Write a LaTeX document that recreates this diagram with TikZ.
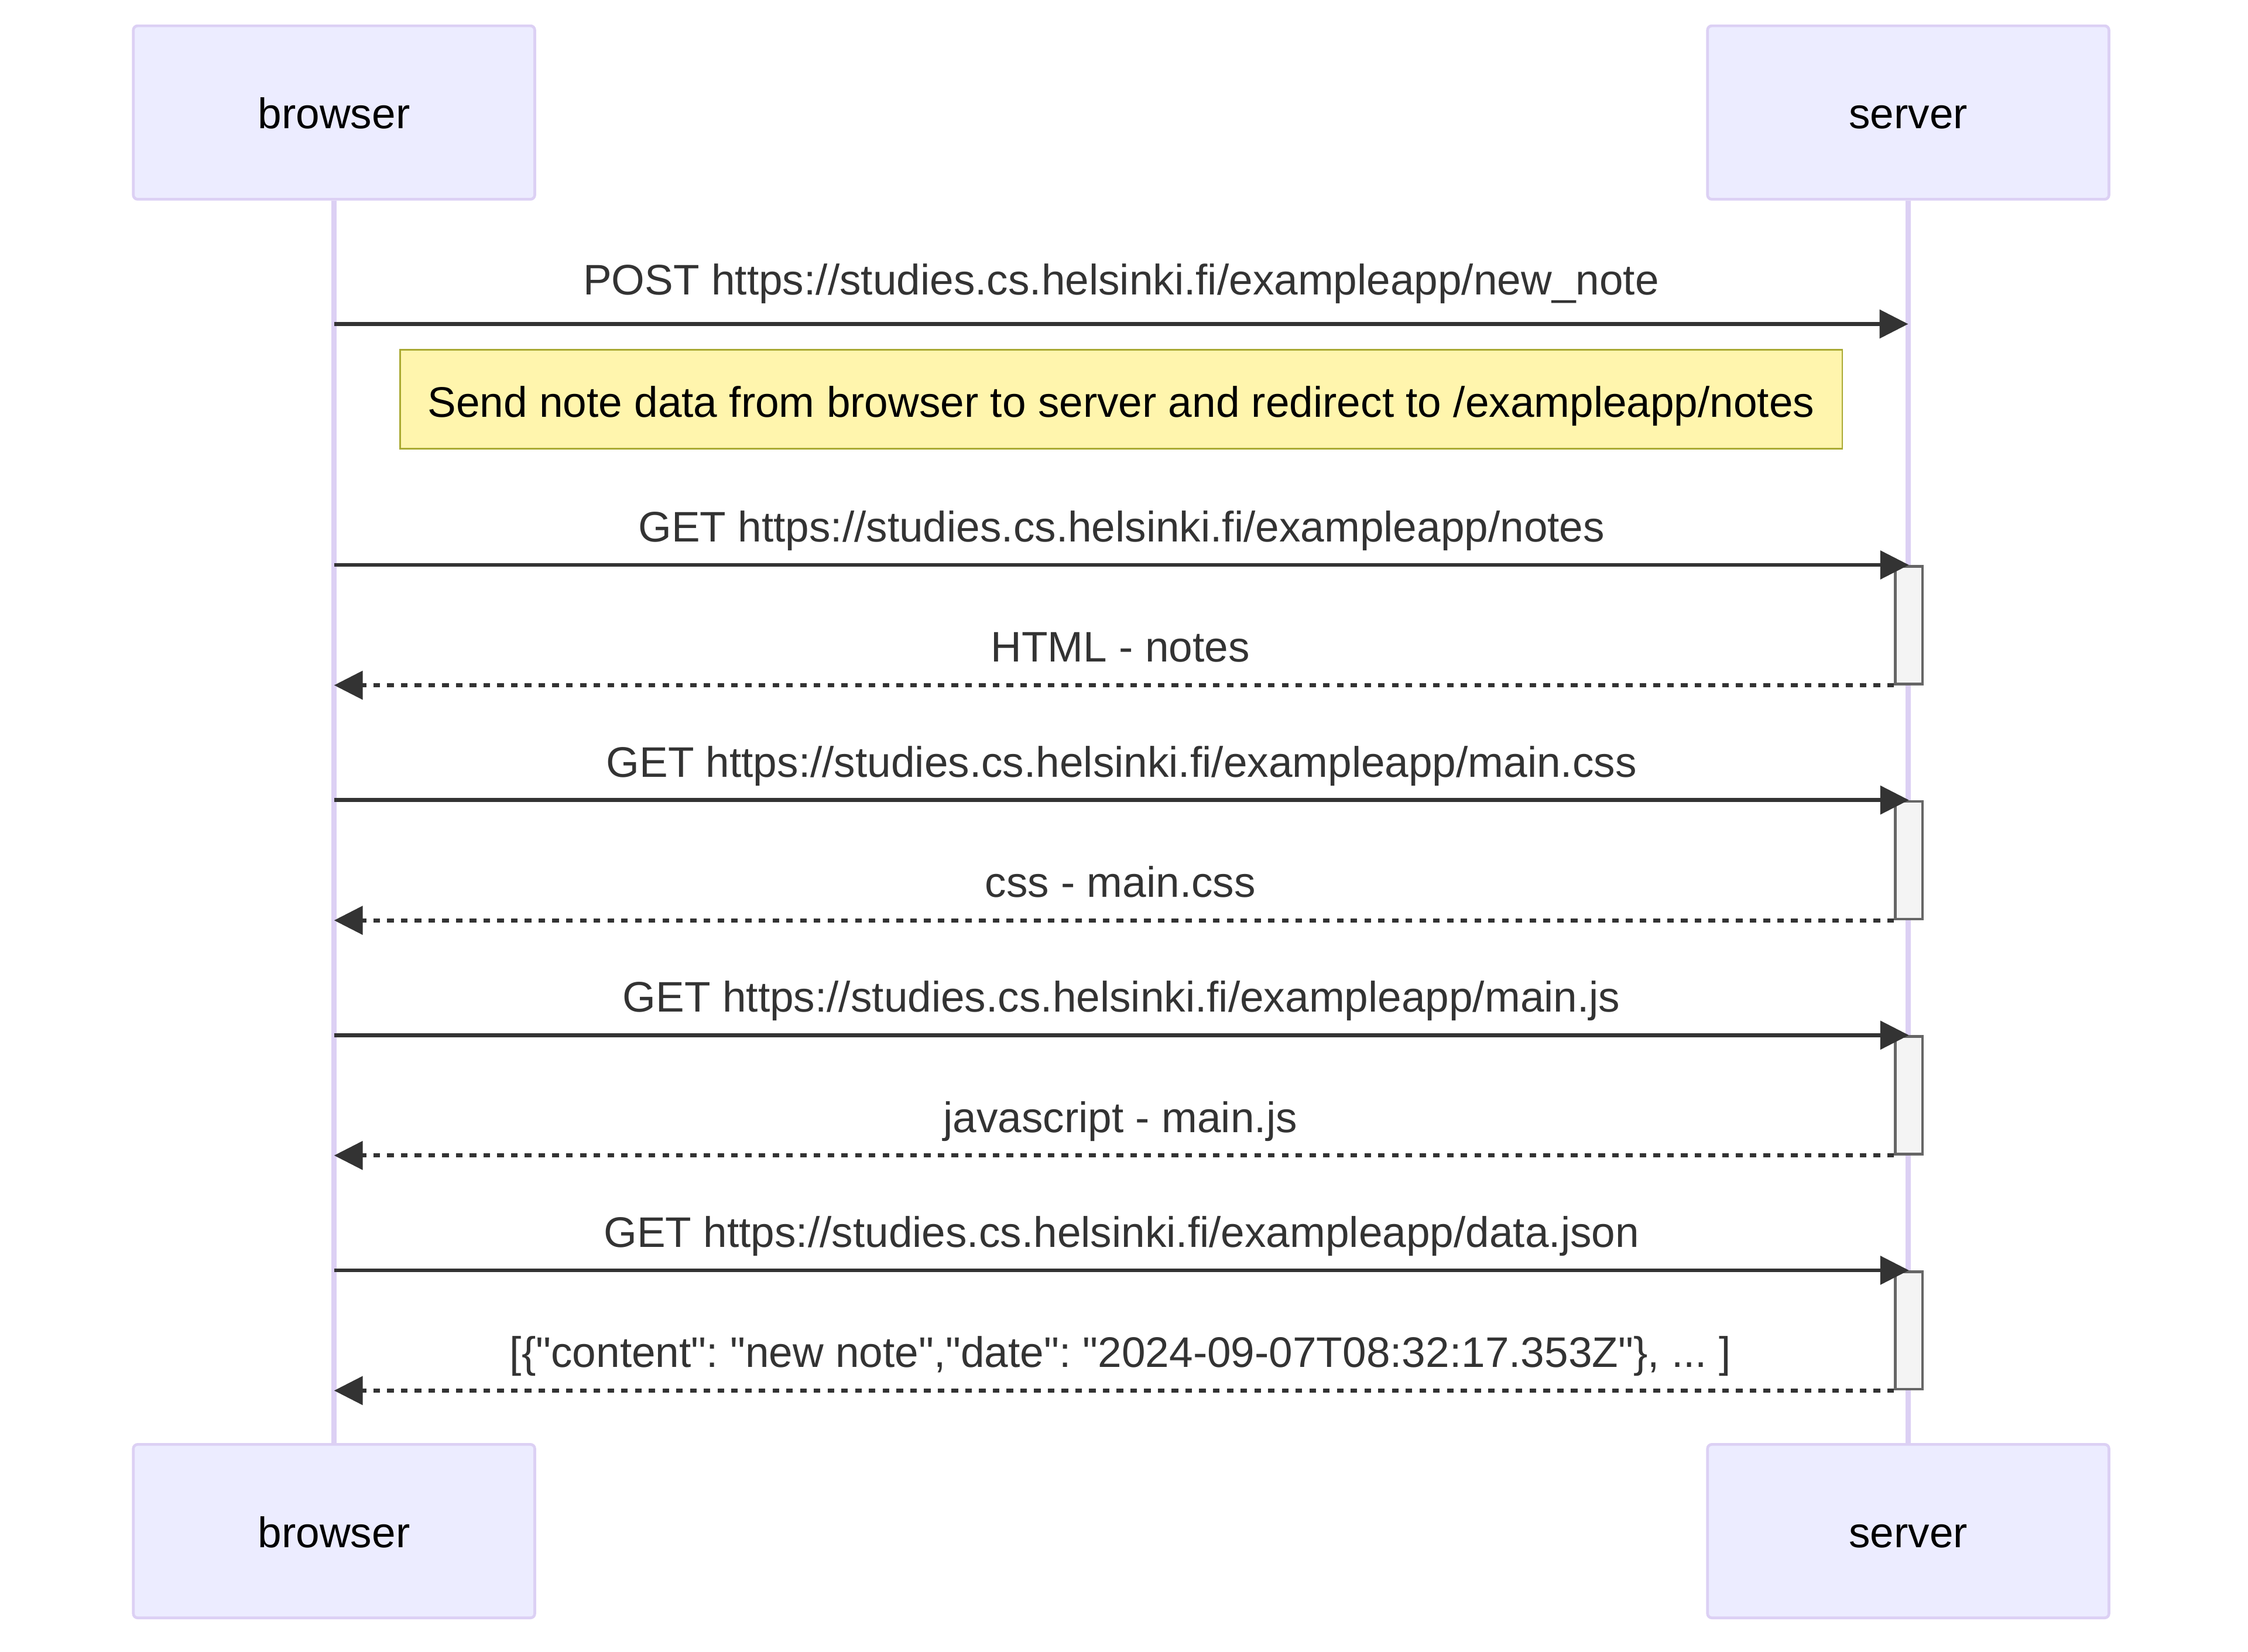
\documentclass[tikz,border=0pt]{standalone}
\usepackage{fontspec}
\setmainfont{Liberation Sans}[Ligatures=TeXOff]
\usetikzlibrary{positioning,arrows.meta}
\definecolor{actorfill}{HTML}{ECECFF}
\definecolor{actorline}{HTML}{DCD0F4}
\definecolor{notefill}{HTML}{FFF5AD}
\definecolor{noteline}{HTML}{AAAA33}
\definecolor{msgcol}{HTML}{333333}
\definecolor{actfill}{HTML}{F4F4F4}
\definecolor{actline}{HTML}{666666}
\frenchspacing

\begin{document}
\begin{tikzpicture}[
            x=0.5pt, y=-0.5pt,
            actornode/.style={rectangle, rounded corners=1.5pt, draw=actorline, line width=0.95pt, fill=actorfill, minimum width=140pt, minimum height=60.5pt, text height=11.3pt, text depth=0pt, font=\fontsize{14.9}{18}\selectfont},
            notenode/.style={rectangle, draw=noteline, line width=0.6pt, fill=notefill, minimum width=503pt, minimum height=34.5pt, text height=12.5pt, text depth=0pt, font=\fontsize{14.9}{18}\selectfont},
            msglabel/.style={text=msgcol, font=\fontsize{14.9}{18}\selectfont, inner sep=0pt, anchor=base, yshift=8.1pt},
            replylabel/.style={msglabel, xshift=2.2pt},
            activebox/.style={rectangle, draw=actline, line width=0.95pt, fill=actfill, minimum width=9.5pt, minimum height=41pt, inner sep=0pt},
            callline/.style={draw=msgcol, line width=1.4pt, -{Triangle[length=10pt, width=9.8pt]}},
            replyline/.style={callline, dash pattern=on 2.3pt off 2.5pt},
            lifeline/.style={draw=actorline, line width=1.9pt},
        ]
            \useasboundingbox (0,0) rectangle (1568,1152);
            % Nodes
            \node[actornode] (browsertop) at (233,78.5) {browser};
            \node[actornode] (servertop) at (1331,78.5) {server};
            \node[actornode] (browserbot) at (233,1068) {browser};
            \node[actornode] (serverbot) at (1331,1068) {server};

            % Lifelines
            \draw[lifeline] (browsertop.south) -- (browserbot.north);
            \draw[lifeline] (servertop.south) -- (serverbot.north);

            % Note
            \node[notenode] (note) at (782,278.5) {Send note data from browser to server and redirect to /exampleapp/notes};

            % Activations
            \node[activebox] (notesact) at (1331.5,436) {};
            \node[activebox] (cssact) at (1331.5,600) {};
            \node[activebox] (jsact) at (1331.5,764) {};
            \node[activebox] (dataact) at (1331.5,928) {};

            % Lines
            \draw[callline] (browsertop |- 0,226) -- node[msglabel, yshift=2.1pt]{POST https://studies.cs.helsinki.fi/exampleapp/new\_note} (servertop |- 0,226);
            \draw[callline] (browsertop |- notesact.north) -- node[msglabel]{GET https://studies.cs.helsinki.fi/exampleapp/notes} (notesact.north);
            \draw[replyline] (notesact.south west) -- node[replylabel]{HTML - notes} (browsertop |- notesact.south);
            \draw[callline] (browsertop |- cssact.north) -- node[msglabel]{GET https://studies.cs.helsinki.fi/exampleapp/main.css} (cssact.north);
            \draw[replyline] (cssact.south west) -- node[replylabel]{css - main.css} (browsertop |- cssact.south);
            \draw[callline] (browsertop |- jsact.north) -- node[msglabel]{GET https://studies.cs.helsinki.fi/exampleapp/main.js} (jsact.north);
            \draw[replyline] (jsact.south west) -- node[replylabel]{javascript - main.js} (browsertop |- jsact.south);
            \draw[callline] (browsertop |- dataact.north) -- node[msglabel]{GET https://studies.cs.helsinki.fi/exampleapp/data.json} (dataact.north);
            \draw[replyline] (dataact.south west) -- node[replylabel]{[\{"content": "new note","date": "2024-09-07T08:32:17.353Z"\}, ... ]} (browsertop |- dataact.south);
        \end{tikzpicture}
\end{document}
